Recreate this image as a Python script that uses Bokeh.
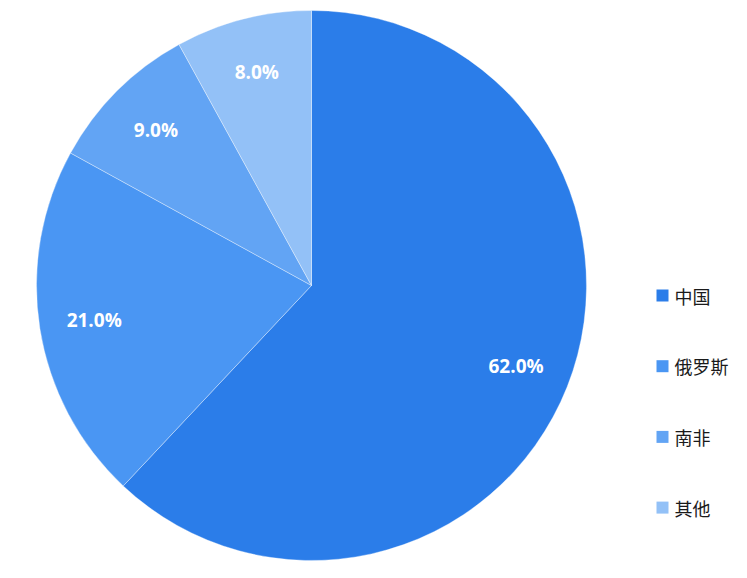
import math
from bokeh.plotting import figure
from bokeh.models import Range1d, ColumnDataSource
from bokeh.core.properties import value
from bokeh.embed import file_html
from bokeh.resources import INLINE

categories = ["中国", "俄罗斯", "南非", "其他"]
shares = [62.0, 21.0, 9.0, 8.0]
colors = ["#2b7de9", "#4a96f3", "#62a4f4", "#93c1f7"]

W, H = 731, 562
p = figure(width=W, height=H, output_backend="svg", toolbar_location=None,
           x_range=Range1d(0, W), y_range=Range1d(0, H))
p.axis.visible = False
p.grid.visible = False
p.outline_line_color = None
p.min_border = 0

cx, cy, R = 311, H - 285, 275
total = sum(shares)
starts, ends, lx, ly, labels = [], [], [], [], []
cum = 0.0
for s in shares:
    a0 = math.pi / 2 - 2 * math.pi * cum / total
    a1 = math.pi / 2 - 2 * math.pi * (cum + s) / total
    starts.append(a0)
    ends.append(a1)
    mid = (a0 + a1) / 2
    lr = R * 0.8
    lx.append(cx + lr * math.cos(mid))
    ly.append(cy + lr * math.sin(mid))
    labels.append(f"{s:.1f}%")
    cum += s

src = ColumnDataSource(dict(start=starts, end=ends, color=colors, cat=categories))
p.wedge(x=cx, y=cy, radius=R, start_angle="start", end_angle="end", direction="clock",
        fill_color="color", line_color="white", line_width=1, line_alpha=0.35, source=src)

p.text(x=lx, y=ly, text=labels, text_color="white", text_font=value("Open Sans"),
       text_font_size="19px", text_font_style="bold", text_align="center",
       text_baseline="middle")

# legend
lg_x, lg_y0, lg_dy = 662, H - 295, 70.7
ys = [lg_y0 - i * lg_dy for i in range(len(categories))]
p.scatter(x=[lg_x] * len(categories), y=ys, marker="square", size=12,
          fill_color=colors, line_color=None)
p.text(x=[lg_x + 12] * len(categories), y=ys, text=categories, text_color="#1a1a1a",
       text_font=value("Noto Sans CJK SC"), text_font_size="18px",
       text_align="left", text_baseline="middle")

open("out.html", "w").write(file_html(p, INLINE))
